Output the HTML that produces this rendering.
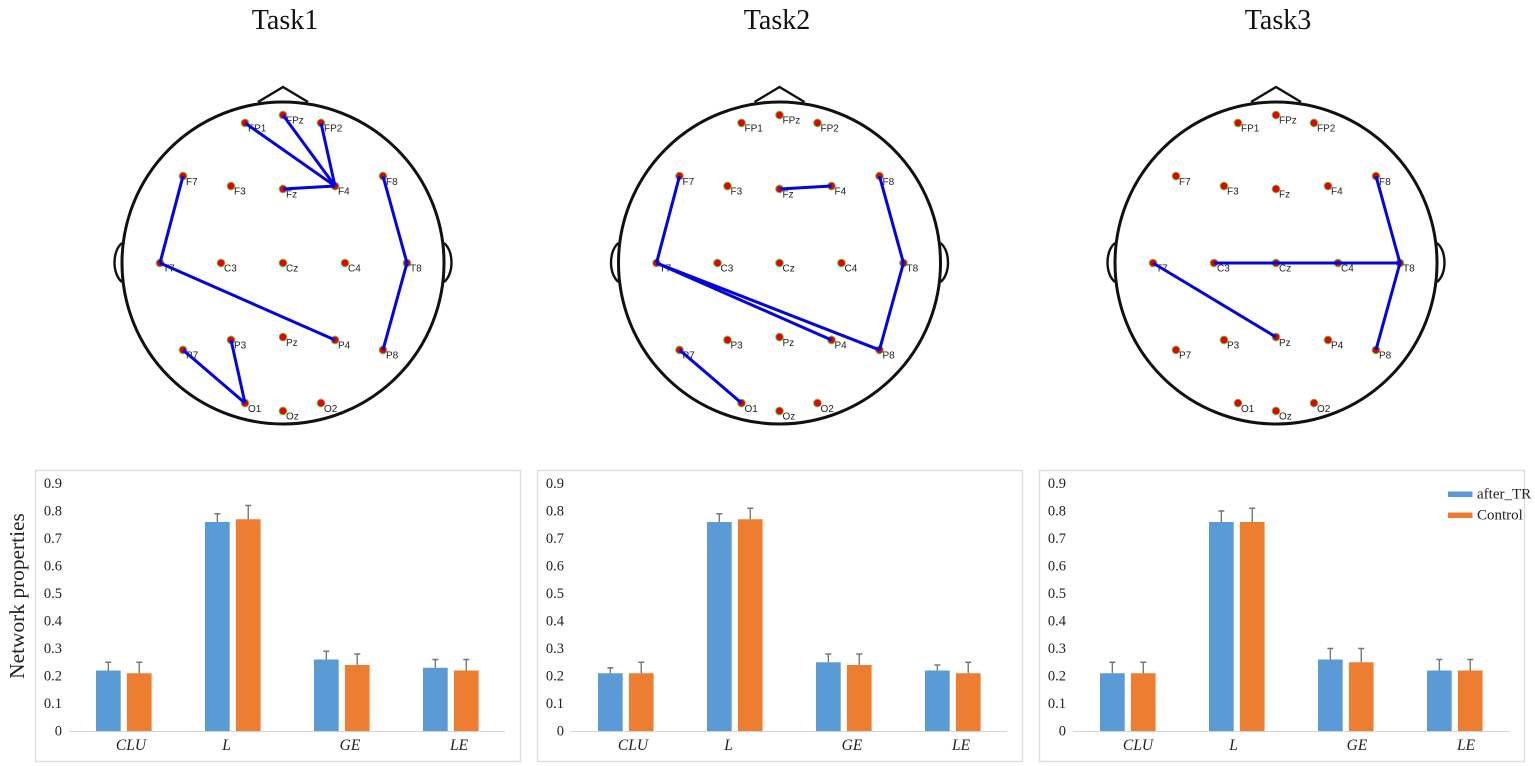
<!DOCTYPE html>
<html lang="en">
<head>
<meta charset="utf-8">
<title>Brain network connectivity by task</title>
<style>
html,body{margin:0;padding:0;background:#fff;}
body{width:1535px;height:766px;overflow:hidden;}
svg{display:block;}
text{font-family:"Liberation Serif",serif;fill:#222;}
</style>
</head>
<body>
<svg id="figure" width="1535" height="766" viewBox="0 0 1535 766" xmlns="http://www.w3.org/2000/svg"></svg>
<script>
// ----- Chart data -----
const taskNames = ["Task1", "Task2", "Task3"];
const categories = ["CLU", "L", "GE", "LE"];
const seriesNames = ["after_TR", "Control"];
const yTicks = [0, 0.1, 0.2, 0.3, 0.4, 0.5, 0.6, 0.7, 0.8, 0.9];

const task1After = [0.22, 0.76, 0.26, 0.23];
const task1Control = [0.21, 0.77, 0.24, 0.22];
const task2After = [0.21, 0.76, 0.25, 0.22];
const task2Control = [0.21, 0.77, 0.24, 0.21];
const task3After = [0.21, 0.76, 0.26, 0.22];
const task3Control = [0.21, 0.76, 0.25, 0.22];

const task1AfterErr = [0.03, 0.03, 0.03, 0.03];
const task1ControlErr = [0.04, 0.05, 0.04, 0.04];
const task2AfterErr = [0.02, 0.03, 0.03, 0.02];
const task2ControlErr = [0.04, 0.04, 0.04, 0.04];
const task3AfterErr = [0.04, 0.04, 0.04, 0.04];
const task3ControlErr = [0.04, 0.05, 0.05, 0.04];

// Electrode montage: name, normalised head coordinates
const electrodeNames = ["FP1","FPz","FP2","F7","F3","Fz","F4","F8","T7","C3","Cz","C4","T8","P7","P3","Pz","P4","P8","O1","Oz","O2"];
const electrodeX = [-0.236,0,0.236,-0.621,-0.323,0,0.323,0.621,-0.764,-0.385,0,0.385,0.77,-0.621,-0.323,0,0.323,0.621,-0.236,0,0.236];
const electrodeY = [0.87,0.919,0.87,0.54,0.478,0.46,0.478,0.54,0,0,0,0,0,-0.54,-0.478,-0.46,-0.478,-0.54,-0.87,-0.919,-0.87];

const task1Edges = [["FP1","F4"],["FPz","F4"],["FP2","F4"],["Fz","F4"],["F7","T7"],["T7","P4"],["F8","T8"],["T8","P8"],["P7","O1"],["P3","O1"]];
const task2Edges = [["Fz","F4"],["F7","T7"],["T7","P4"],["T7","P8"],["F8","T8"],["T8","P8"],["P7","O1"]];
const task3Edges = [["F8","T8"],["T8","P8"],["C3","T8"],["T7","Pz"]];

const afterSeries = [task1After, task2After, task3After];
const controlSeries = [task1Control, task2Control, task3Control];
const afterErrors = [task1AfterErr, task2AfterErr, task3AfterErr];
const controlErrors = [task1ControlErr, task2ControlErr, task3ControlErr];
const edgeSets = [task1Edges, task2Edges, task3Edges];

// ----- Drawing -----
const svg = document.getElementById("figure");
const NS = "http://www.w3.org/2000/svg";

function make(tag, geometry, parent) {
  const node = document.createElementNS(NS, tag);
  for (const key in geometry) node.setAttribute(key, geometry[key]);
  parent.appendChild(node);
  return node;
}

const HEAD_R = 161;
const HEAD_CY = 263;
const headCenters = [283, 779.5, 1276];
const titleCenters = [285, 777, 1278];

function headX(cx, v) { return cx + v * HEAD_R; }
function headY(v) { return HEAD_CY - v * HEAD_R; }

function drawHead(index) {
  const cx = headCenters[index];
  const group = make("g", {}, svg);
  
  

  const title = make("text", {x: titleCenters[index], y: 29, "text-anchor": "middle", "font-size": 28}, group);
  title.textContent = taskNames[index];
  title.style.fill = "#111";
  
  

  const outlineStyle = {fill: "none", stroke: "#111", "stroke-width": 3};

  const nose = make("path", Object.assign({d: `M${cx - 25} 102 L${cx} 87 L${cx + 25} 102`}, outlineStyle, {"stroke-width": 2.4}), group);
  
  

  const leftEar = make("path", Object.assign({d: `M${cx - 161} 243 C${cx - 171} 251 ${cx - 171} 274 ${cx - 161} 282`}, outlineStyle, {"stroke-width": 2.4}), group);
  
  

  const rightEar = make("path", Object.assign({d: `M${cx + 161} 243 C${cx + 171} 251 ${cx + 171} 274 ${cx + 161} 282`}, outlineStyle, {"stroke-width": 2.4}), group);
  
  

  const outline = make("circle", Object.assign({cx: cx, cy: HEAD_CY, r: HEAD_R}, outlineStyle), group);
  
  

  electrodeNames.forEach(function (name, i) {
    const px = headX(cx, electrodeX[i]);
    const py = headY(electrodeY[i]);
    const dot = make("circle", {cx: px, cy: py, r: 3.9, fill: "#ee0000", stroke: "#5fd45f", "stroke-width": 1}, group);
    
    
    const label = make("text", {x: px + 3, y: py + 8.7, "font-size": 10}, group);
    label.textContent = name;
    label.style.fontFamily = '"Liberation Sans", sans-serif';
    
    
  });

  edgeSets[index].forEach(function (edge) {
    const a = electrodeNames.indexOf(edge[0]);
    const b = electrodeNames.indexOf(edge[1]);
    const line = make("line", {
      x1: headX(cx, electrodeX[a]), y1: headY(electrodeY[a]),
      x2: headX(cx, electrodeX[b]), y2: headY(electrodeY[b]),
      stroke: "#0404e0", "stroke-width": 3
    }, group);
    
    
  });
}

const PANEL_TOP = 470;
const PANEL_H = 291;
const PANEL_W = 485;
const panelLefts = [35, 537, 1039];
const Y_ZERO = 731;
const Y_UNIT = 275;
const BAND = 109;
const BAR_W = 24.7;
const BAR_GAP = 6.2;
const PAD = 27;

function yScale(v) { return Y_ZERO - v * Y_UNIT; }
function xBand(left, c) { return left + 34 + c * BAND; }

function drawBars(group, left, values, errors, slot, color, seriesName) {
  values.forEach(function (v, c) {
    const x = xBand(left, c) + PAD + slot * (BAR_W + BAR_GAP);
    const bar = make("rect", {x: x, y: yScale(v), width: BAR_W, height: Y_ZERO - yScale(v), fill: color}, group);
    
    

    const mid = x + BAR_W / 2;
    const top = yScale(v + errors[c]);
    const err = make("path", {d: `M${mid} ${yScale(v)} V${top} M${mid - 3} ${top} H${mid + 3}`, fill: "none", stroke: "#777", "stroke-width": 1.4}, group);
    
    
  });
}

function drawChart(index) {
  const left = panelLefts[index];
  const group = make("g", {}, svg);
  
  

  const frame = make("rect", {x: left + 0.5, y: PANEL_TOP + 0.5, width: PANEL_W, height: PANEL_H, fill: "#fff", stroke: "#dcdcdc", "stroke-width": 1.4}, group);
  
  

  yTicks.forEach(function (t) {
    const tick = make("text", {x: left + 27, y: yScale(t) + 4.5, "text-anchor": "end", "font-size": 14.5}, group);
    tick.textContent = String(t);
    
    
  });

  const axis = make("line", {x1: left + 34, x2: left + 34 + BAND * categories.length, y1: Y_ZERO + 0.5, y2: Y_ZERO + 0.5, stroke: "#d4d4d4", "stroke-width": 1}, group);
  
  

  drawBars(group, left, afterSeries[index], afterErrors[index], 0, "#5b9bd5", seriesNames[0]);
  drawBars(group, left, controlSeries[index], controlErrors[index], 1, "#ed7d31", seriesNames[1]);

  const labelNudge = [7.5, -6, 8.5, 8.5];
  const panelNudge = index === 2 ? 3 : 0;
  categories.forEach(function (name, c) {
    const label = make("text", {x: xBand(left, c) + BAND / 2 + labelNudge[c] + panelNudge, y: 750, "text-anchor": "middle", "font-size": 15.5, "font-style": "italic"}, group);
    label.textContent = name;
    
    
  });
}

[0, 1, 2].forEach(drawHead);
[0, 1, 2].forEach(drawChart);

const yTitle = make("text", {x: 0, y: 0, transform: "translate(24,596) rotate(-90)", "text-anchor": "middle", "font-size": 21.4}, svg);
yTitle.textContent = "Network properties";



const legendColors = ["#5b9bd5", "#ed7d31"];
seriesNames.forEach(function (name, i) {
  const rowY = 494 + i * 21;
  const swatch = make("rect", {x: 1448, y: rowY - 2.5, width: 24.5, height: 5.5, fill: legendColors[i]}, svg);
  
  
  const text = make("text", {x: 1477, y: rowY + 4.5, "font-size": 15}, svg);
  text.textContent = name;
  
  
});
</script>
</body>
</html>
